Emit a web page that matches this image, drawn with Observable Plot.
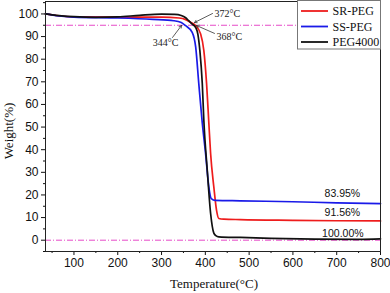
<!DOCTYPE html>
<html><head><meta charset="utf-8">
<script src="https://cdn.jsdelivr.net/npm/d3@7"></script>
<script src="https://cdn.jsdelivr.net/npm/@observablehq/plot@0.6"></script>
<style>
body{margin:0;background:#fff}
#wrap{position:relative;width:390px;height:293px;overflow:hidden}
.ttl{position:absolute;font-family:"Liberation Serif","Times New Roman",serif;font-size:13px;color:#111;white-space:nowrap;line-height:1}
</style></head><body><div id="wrap"></div>
<script>
const series = ["SR-PEG", "SS-PEG", "PEG4000"];
const colors = ["#ee1c1c", "#1a1ae8", "#111111"];

const tempSR = [35,60,100,200,300,340,355,366,378,389,396.6,402.8,408,412,419.4,425.6,430.8,442,480,600,700,800];
const weightSR = [100,99.3,98.7,98.6,98.6,98.2,97.5,96.3,94.8,91.3,83.8,69.3,51.8,38.4,23.5,13.2,9.6,9.3,9.1,8.8,8.6,8.5];

const tempSS = [35,60,100,200,280,328,345,355,370,378,385,393,400.5,408,413.5,423,480,600,700,800];
const weightSS = [100,99.2,98.6,98.2,97.6,97,96.2,94.8,91.9,85.3,69.3,51.8,38.4,23.5,18.4,17.6,17.4,17,16.5,16.2];

const tempPEG = [35,50,100,150,200,250,300,330,345,355,362,370,378,383,387.5,393,396.6,404.4,412,419.4,424,430.8,480,550,650,750,800];
const weightPEG = [100,99.6,98.8,98.5,98.7,99.4,99.9,99.8,99.3,98.3,97,95.5,94,91,83.8,69.3,52.9,30.9,11.9,3.1,2.0,1.5,1.2,0.8,0.5,0.4,0.6];

const refLines = [95, 0];
const xTicks = [100,200,300,400,500,600,700,800];
const xMinor = [50,150,250,350,450,550,650,750];
const yTicks = [0,10,20,30,40,50,60,70,80,90,100];
const yMinor = [-5,5,15,25,35,45,55,65,75,85,95,105];

// onset annotations
const onsetTemps = [344, 372, 368];
const onsetLabelX = [309, 421, 425.5];
const onsetLabelY = [87.4, 100.2, 90.1];
const onsetAnchor = ["middle", "start", "start"];
const arrowX1 = [325, 416.4, 420.9];
const arrowY1 = [89.6, 100.2, 91.4];
const arrowX2 = [345.6, 375.3, 379.8];
const arrowY2 = [94.9, 96.2, 94.9];

// weight-loss labels
const lossLabels = ["83.95%", "91.56%", "100.00%"];
const lossX = [713, 713, 714];
const lossY = [20.6, 12.2, 3.1];

const rows = [];
[[tempSR, weightSR], [tempSS, weightSS], [tempPEG, weightPEG]].forEach(([t, w], i) => {
  t.forEach((tv, j) => rows.push({s: series[i], t: tv, w: w[j]}));
});
const onsets = onsetTemps.map((v, i) => ({label: v + "°C", x: onsetLabelX[i], y: onsetLabelY[i], anchor: onsetAnchor[i],
  x1: arrowX1[i], y1: arrowY1[i], x2: arrowX2[i], y2: arrowY2[i]}));
const losses = lossLabels.map((l, i) => ({label: l, x: lossX[i], y: lossY[i]}));

const chart = Plot.plot({
  width: 390, height: 293,
  marginLeft: 45, marginRight: 10, marginTop: 1, marginBottom: 42,
  style: {fontFamily: "Liberation Sans, Arial, sans-serif", fontSize: "12px", background: "#fff", color: "#111"},
  x: {domain: [35, 800]},
  y: {domain: [-5, 105.5]},
  color: {domain: series, range: colors},
  marks: [
    Plot.ruleY(refLines, {stroke: "#e64bc8", strokeDasharray: "6,2,1,2", strokeWidth: 1}),
    Plot.line(rows, {x: "t", y: "w", z: "s", stroke: "s", curve: "monotone-x", strokeWidth: 1.7}),
    Plot.axisX({ticks: xTicks, tickSize: 4, tickPadding: 3, label: null, fontSize: 12}),
    Plot.axisX({ticks: xMinor, tickSize: 2, text: null, label: null}),
    Plot.axisY({ticks: yTicks, tickSize: 4, tickPadding: 3, label: null, fontSize: 12}),
    Plot.axisY({ticks: yMinor, tickSize: 2, text: null, label: null}),
    Plot.frame({stroke: "#222", strokeWidth: 1}),
    Plot.arrow(onsets, {x1: "x1", y1: "y1", x2: "x2", y2: "y2", stroke: "#333", strokeWidth: 0.8, headLength: 5}),
    Plot.text(onsets.filter(d => d.anchor === "middle"), {x: "x", y: "y", text: "label", textAnchor: "middle", fontFamily: "Liberation Serif, Times New Roman, serif", fontSize: 10, fill: "#222"}),
    Plot.text(onsets.filter(d => d.anchor === "start"), {x: "x", y: "y", text: "label", textAnchor: "start", fontFamily: "Liberation Serif, Times New Roman, serif", fontSize: 10, fill: "#222"}),
    Plot.text(losses, {x: "x", y: "y", text: "label", textAnchor: "middle", fontSize: 10.5, fill: "#111"})
  ]
});
const wrap = document.getElementById("wrap");
chart.style.position = "absolute";
chart.style.left = "0px";
chart.style.top = "0px";
wrap.appendChild(chart);

// legend
const ns = "http://www.w3.org/2000/svg";
const leg = document.createElementNS(ns, "svg");
leg.setAttribute("width", 84); leg.setAttribute("height", 50);
leg.style.position = "absolute"; leg.style.left = "297px"; leg.style.top = "0px";
const box = document.createElementNS(ns, "rect");
box.setAttribute("x", 0.5); box.setAttribute("y", 0.5); box.setAttribute("width", 83); box.setAttribute("height", 48.5);
box.setAttribute("fill", "#fff"); box.setAttribute("stroke", "#777"); box.setAttribute("stroke-width", 1);
leg.appendChild(box);
series.forEach((s, i) => {
  const y = 11 + i * 15.5;
  const ln = document.createElementNS(ns, "line");
  ln.setAttribute("x1", 4); ln.setAttribute("x2", 31); ln.setAttribute("y1", y); ln.setAttribute("y2", y);
  ln.setAttribute("stroke", colors[i]); ln.setAttribute("stroke-width", 1.8);
  leg.appendChild(ln);
  const tx = document.createElementNS(ns, "text");
  tx.setAttribute("x", 35.5); tx.setAttribute("y", y); tx.setAttribute("dy", "0.35em");
  tx.setAttribute("font-family", "Liberation Serif, Times New Roman, serif");
  tx.setAttribute("font-size", 12); tx.setAttribute("fill", "#111");
  tx.textContent = s;
  leg.appendChild(tx);
});
wrap.appendChild(leg);

// axis titles
const xt = document.createElement("div");
xt.className = "ttl"; xt.textContent = "Temperature(°C)";
xt.style.left = "214px"; xt.style.top = "283px"; xt.style.transform = "translate(-50%,-50%)";
wrap.appendChild(xt);
const yt = document.createElement("div");
yt.className = "ttl"; yt.textContent = "Weight(%)";
yt.style.left = "8px"; yt.style.top = "131px"; yt.style.transform = "translate(-50%,-50%) rotate(-90deg)";
wrap.appendChild(yt);
</script></body></html>
